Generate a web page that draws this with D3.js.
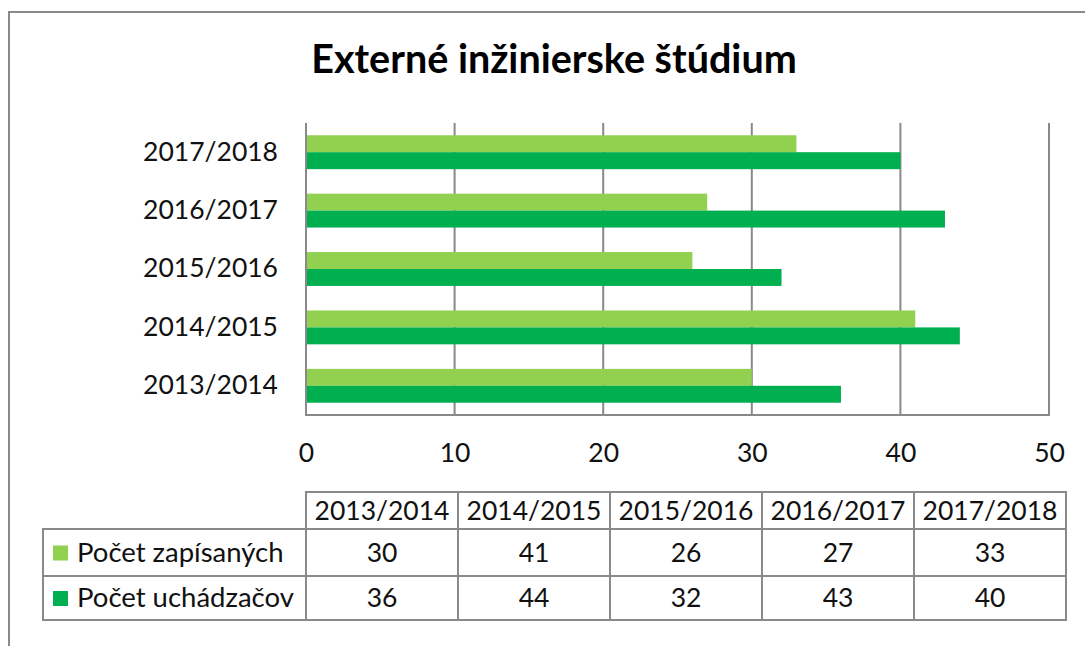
<html>
<script src='https://d3js.org/d3.v7.min.js'></script>
<style>
body {margin: 0; background: white;}
text {font-family: Lato, 'Open Sans', sans-serif; fill: #111;}
</style>
<body onload='init()'>
<svg width=1085 height=646></svg>
<script>
// chart data
var years = ["2013/2014", "2014/2015", "2015/2016", "2016/2017", "2017/2018"];
var zapisanych = [30, 41, 26, 27, 33];
var uchadzacov = [36, 44, 32, 43, 40];
var seriesNames = ["Počet zapísaných", "Počet uchádzačov"];
var seriesColors = ["#92D050", "#00B050"];
var xTicks = [0, 10, 20, 30, 40, 50];

function init() {
    var svg = d3.select("svg");
    var gray = "#898989";
    var fs = "26.5px";

    // outer frame (runs off the right and bottom edge)
    svg.append("rect").attr("x", 9).attr("y", 12).attr("width", 1100).attr("height", 660)
        .attr("fill", "none").attr("stroke", gray).attr("stroke-width", 2);

    svg.append("text").attr("x", 554).attr("y", 73).attr("text-anchor", "middle")
        .style("font-weight", "bold").style("font-size", "39.5px").style("fill", "#000")
        .text("Externé inžinierske štúdium");

    var x = d3.scaleLinear().domain([0, 50]).range([306, 1049]);
    var y = d3.scaleBand().domain(years.slice().reverse()).range([123, 415])
        .paddingInner(0.42).paddingOuter(0.21);
    var inner = d3.scaleBand().domain([0, 1]).range([0, y.bandwidth()]);

    // gridlines
    svg.append("g").selectAll("line").data(xTicks.slice(1)).enter().append("line")
        .attr("x1", d => x(d)).attr("x2", d => x(d)).attr("y1", 123).attr("y2", 415)
        .attr("stroke", gray).attr("stroke-width", 2);

    var series = [zapisanych, uchadzacov];
    series.forEach(function(vals, si) {
        svg.append("g").selectAll("rect").data(years).enter().append("rect")
            .attr("x", x(0))
            .attr("y", (d) => y(d) + inner(si))
            .attr("width", (d, i) => x(vals[i]) - x(0))
            .attr("height", inner.bandwidth())
            .attr("fill", seriesColors[si]);
    });

    // axes lines
    svg.append("line").attr("x1", x(0)).attr("x2", x(0)).attr("y1", 123).attr("y2", 416)
        .attr("stroke", gray).attr("stroke-width", 2);
    svg.append("line").attr("x1", x(0) - 1).attr("x2", x(50) + 1).attr("y1", 415).attr("y2", 415)
        .attr("stroke", gray).attr("stroke-width", 2);

    var xAxis = svg.append("g").attr("transform", "translate(0,415)")
        .call(d3.axisBottom(x).tickValues(xTicks).tickSize(0).tickPadding(28));
    xAxis.select(".domain").remove();
    xAxis.selectAll("text").style("font-size", fs).attr("fill", "#111").style("font-family", "Lato, sans-serif");

    var yAxis = svg.append("g").attr("transform", "translate(" + x(0) + ",0)")
        .call(d3.axisLeft(y).tickSize(0).tickPadding(28));
    yAxis.select(".domain").remove();
    yAxis.selectAll("text").style("font-size", fs).attr("fill", "#111").style("font-family", "Lato, sans-serif");

    // data table
    var cols = d3.scaleBand().domain(years).range([306, 1066]);
    var rowY = [492, 529, 576, 620];
    var t = svg.append("g");
    // header row
    t.append("rect").attr("x", 306).attr("y", rowY[0]).attr("width", 760).attr("height", rowY[1] - rowY[0])
        .attr("fill", "none").attr("stroke", gray).attr("stroke-width", 2);
    t.append("rect").attr("x", 43).attr("y", rowY[1]).attr("width", 1066 - 43).attr("height", rowY[3] - rowY[1])
        .attr("fill", "none").attr("stroke", gray).attr("stroke-width", 2);
    t.append("line").attr("x1", 43).attr("x2", 1066).attr("y1", rowY[2]).attr("y2", rowY[2])
        .attr("stroke", gray).attr("stroke-width", 2);
    t.selectAll("line.c").data(years).enter().append("line").attr("class", "c")
        .attr("x1", d => cols(d)).attr("x2", d => cols(d)).attr("y1", rowY[0]).attr("y2", rowY[3])
        .attr("stroke", gray).attr("stroke-width", 2);

    t.selectAll("text.h").data(years).enter().append("text").attr("class", "h")
        .attr("x", d => cols(d) + cols.bandwidth() / 2).attr("y", (rowY[0] + rowY[1]) / 2 + 9)
        .attr("text-anchor", "middle").style("font-size", fs).text(d => d);

    series.forEach(function(vals, si) {
        var cy = (rowY[si + 1] + rowY[si + 2]) / 2;
        t.append("rect").attr("x", 53).attr("y", cy - 7).attr("width", 15).attr("height", 15)
            .attr("fill", seriesColors[si]);
        t.append("text").attr("x", 77).attr("y", cy + 9).style("font-size", "27.5px").text(seriesNames[si]);
        t.selectAll("text.v" + si).data(vals).enter().append("text").attr("class", "v" + si)
            .attr("x", (d, i) => cols(years[i]) + cols.bandwidth() / 2).attr("y", cy + 9)
            .attr("text-anchor", "middle").style("font-size", fs).text(d => d);
    });
}
</script>
</body>
</html>
